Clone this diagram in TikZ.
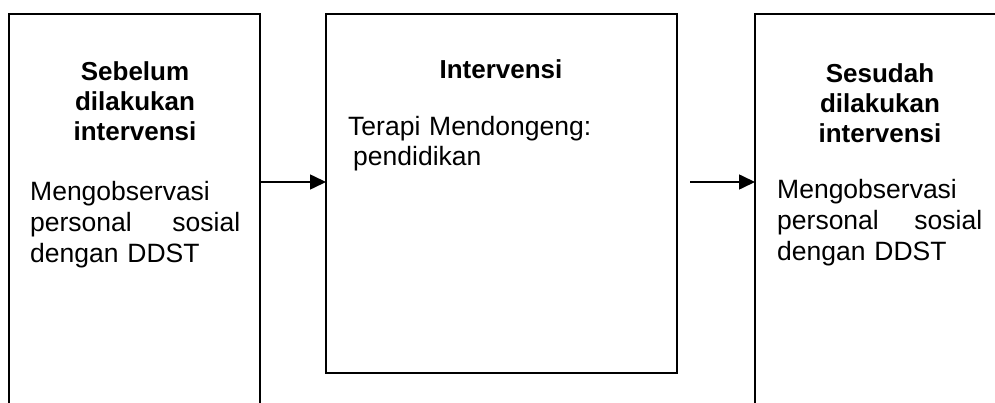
\documentclass[tikz,border=0pt]{standalone}
\usepackage{fontspec}
\setmainfont{Liberation Sans}
\usetikzlibrary{arrows.meta}

\tikzset{
  kotak/.style={draw, line width=1.6pt, rectangle, inner sep=0pt, outer sep=0pt, anchor=north west},
  judul/.style={font=\fontsize{26}{30}\selectfont\bfseries, align=center, text width=220pt, inner sep=0pt, anchor=north},
  isi/.style={font=\fontsize{26.5}{31}\selectfont, align=left, inner sep=0pt, anchor=north west},
  panah/.style={line width=1.6pt, -{Triangle[length=16pt,width=15pt]}}
}

\begin{document}
\begin{tikzpicture}[x=1pt, y=-1pt]
	\useasboundingbox (0,0) rectangle (995,403);
	\clip (0,0) rectangle (995,403);
	
	% Kotak
	\node[kotak, minimum width=251pt, minimum height=430pt] (sebelum) at (9,14) {};
	\node[kotak, minimum width=351pt, minimum height=359pt] (intervensi) at (326,14) {};
	\node[kotak, minimum width=300pt, minimum height=430pt] (sesudah) at (755,14) {};
	
	% Teks
	\node[judul] (judulSebelum) at (135,61) {Sebelum\\dilakukan\\intervensi};
	\node[isi, text width=210pt] (isiSebelum) at (30,181) {Mengobservasi\\personal\hfill sosial\\dengan DDST};
	
	\node[judul] (judulIntervensi) at (501,59) {Intervensi};
	\node[isi, text width=300pt, font=\fontsize{26.5}{30}\selectfont] (isiIntervensi) at (348,116) {Terapi Mendongeng:\\\hspace*{5pt}pendidikan};
	
	\node[judul] (judulSesudah) at (880,63) {Sesudah\\dilakukan\\intervensi};
	\node[isi, text width=205pt] (isiSesudah) at (777,179) {Mengobservasi\\personal\hfill sosial\\dengan DDST};
	
	% Panah
	\coordinate (tengah) at (0,182);
	\coordinate (awal) at (690,182);
	\draw[panah] (sebelum.east |- tengah) -- (intervensi.west |- tengah);
	\draw[panah] (awal) -- (sesudah.west |- awal);
\end{tikzpicture}
\end{document}
